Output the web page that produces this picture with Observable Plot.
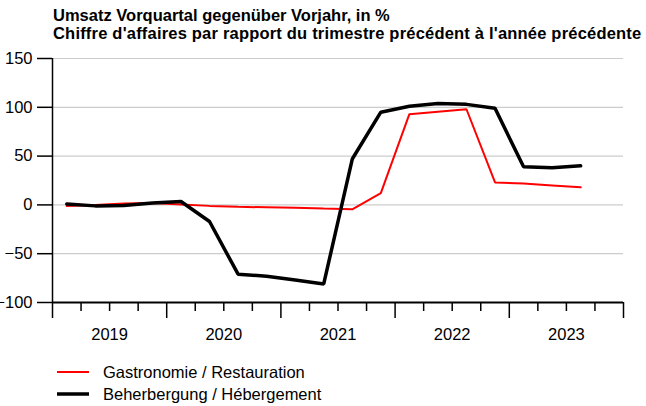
<!DOCTYPE html>
<html><head><meta charset="utf-8">
<script src="https://cdn.jsdelivr.net/npm/d3@7"></script>
<script src="https://cdn.jsdelivr.net/npm/@observablehq/plot@0.6"></script>
<style>
body{margin:0;background:#fff;font-family:"Liberation Sans",Arial,sans-serif;color:#000;}
#title{margin:7px 0 0 53px;font-weight:bold;font-size:16.5px;line-height:17.5px;height:35px;white-space:nowrap;}
#title .l2{letter-spacing:0.2px;}
#legend{padding:10px 0 0 57px;font-size:16.5px;}
.item{display:flex;align-items:center;height:22px;}
.item svg{margin-right:14px;}
</style></head><body>
<div id="title"></div>
<div id="chart"></div>
<div id="legend"></div>
<script>
const titleLines = ["Umsatz Vorquartal gegenüber Vorjahr, in %", "Chiffre d'affaires par rapport du trimestre précédent à l'année précédente"];
const years = [2019, 2020, 2021, 2022, 2023];
const quartersPerYear = [1, 2, 3, 4];
const nQuarters = 19; // 2019 Q1 – 2023 Q3
const seriesNames = ["Gastronomie / Restauration", "Beherbergung / Hébergement"];
const gastro = [-1, 0, 1.5, 2, 0.5, -1, -2, -2.5, -3, -3.8, -4.5, 12, 93, 95.5, 98, 23, 22, 20, 18];
const beher  = [1, -1, -0.5, 2, 3.5, -17, -71, -73, -77, -81, 47, 95, 101, 104, 103, 99, 39, 38, 40];
const yTicks = [-100, -50, 0, 50, 100, 150];
const colors = ["#ff0000", "#000000"];
const widths = [2, 3.5];

document.getElementById("title").innerHTML = titleLines.map((t, i) => `<div class="l${i + 1}">${t}</div>`).join("");

const quarters = years.flatMap(y => quartersPerYear.map(q => ({year: y, q, t: y + (q - 0.5) / 4}))).slice(0, nQuarters);
const rowsG = quarters.map((d, i) => ({t: d.t, value: gastro[i]}));
const rowsB = quarters.map((d, i) => ({t: d.t, value: beher[i]}));
const yearBounds = [...years, years[years.length - 1] + 1];
const quarterBounds = years.flatMap(y => [0.25, 0.5, 0.75].map(f => y + f));
const yearMids = years.map(y => y + 0.5);

const chart = Plot.plot({
  width: 646,
  height: 309,
  marginTop: 16,
  marginBottom: 49,
  marginLeft: 52,
  marginRight: 23,
  style: {fontFamily: '"Liberation Sans", Arial, sans-serif', fontSize: "16.5px", color: "#000", background: "#fff"},
  x: {domain: [2019, 2024]},
  y: {domain: [-100, 150]},
  marks: [
    Plot.gridY(yTicks, {stroke: "#cccccc", strokeOpacity: 1, strokeWidth: 1.2}),
    Plot.axisY(yTicks, {tickSize: 15, tickPadding: 5, label: null, strokeWidth: 1.5, fontSize: 16.5}),
    Plot.axisX(quarterBounds, {tickSize: 9, tickFormat: () => "", label: null, strokeWidth: 1.5}),
    Plot.axisX(yearBounds, {tickSize: 16, tickFormat: () => "", label: null, strokeWidth: 1.5}),
    Plot.axisX(yearMids, {tickSize: 0, tickPadding: 26, tickFormat: d => String(Math.floor(d)), label: null, fontSize: 16.5}),
    Plot.ruleY([-100], {stroke: "#000", strokeWidth: 2}),
    Plot.ruleX([2019], {stroke: "#000", strokeWidth: 1.5}),
    Plot.line(rowsG, {x: "t", y: "value", stroke: colors[0], strokeWidth: widths[0], strokeLinejoin: "miter"}),
    Plot.line(rowsB, {x: "t", y: "value", stroke: colors[1], strokeWidth: widths[1], strokeLinejoin: "miter"})
  ]
});
document.getElementById("chart").appendChild(chart);

const legend = document.getElementById("legend");
seriesNames.forEach((name, i) => {
  const item = document.createElement("div");
  item.className = "item";
  item.innerHTML = `<svg width="32" height="8"><line x1="0" x2="32" y1="4" y2="4" stroke="${colors[i]}" stroke-width="${widths[i]}"/></svg><span>${name}</span>`;
  legend.appendChild(item);
});
</script>
</body></html>
